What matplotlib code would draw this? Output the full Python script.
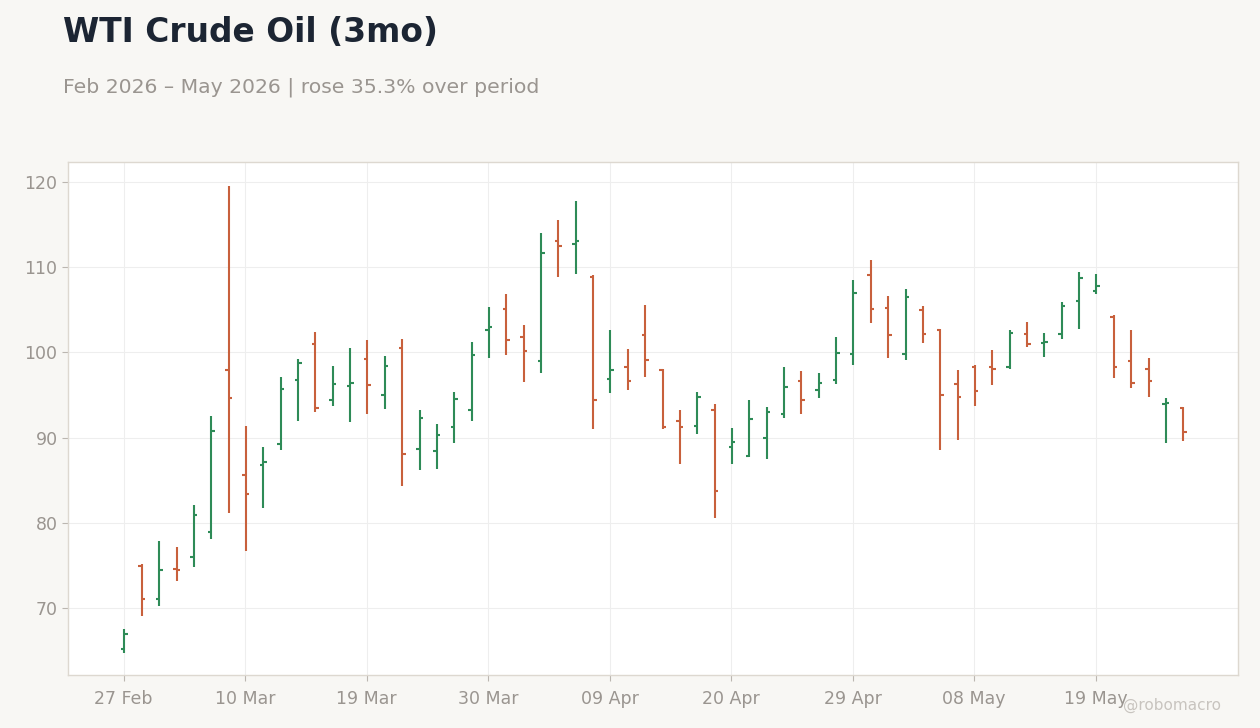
import matplotlib
matplotlib.use("Agg")
import matplotlib.pyplot as plt
import numpy as np

# daily OHLC, WTI crude, 27 Feb 2026 onwards (trading days)
opens = [65.14, 74.94, 71.06, 74.6, 76.0, 78.94, 97.96, 85.61, 86.82, 89.29,
         96.71, 100.94, 94.35, 96.0, 99.18, 94.94, 100.47, 88.71, 88.47, 91.29,
         93.29, 102.59, 105.06, 101.76, 98.94, 113.06, 112.71, 108.82, 96.82, 98.24,
         102.0, 97.9, 92.0, 91.37, 93.18, 88.94, 87.88, 90.0, 92.82, 96.59,
         95.53, 96.71, 99.76, 109.06, 105.18, 99.76, 104.94, 102.6, 96.24, 98.24,
         98.24, 98.31, 102.12, 101.06, 102.12, 106.0, 107.18, 104.12, 98.94, 98.0,
         93.9, 93.41]
highs = [67.57, 75.1, 77.84, 77.14, 82.08, 92.51, 119.49, 91.33, 88.86, 97.1,
         99.25, 102.43, 98.43, 100.55, 101.49, 99.61, 101.61, 93.25, 91.61, 95.37,
         101.25, 105.37, 106.9, 103.25, 113.96, 115.49, 117.73, 109.1, 102.67, 100.43,
         105.61, 98.0, 93.25, 95.37, 93.96, 91.14, 94.43, 93.61, 98.31, 97.84,
         97.61, 101.84, 108.55, 110.9, 106.67, 107.49, 105.49, 102.71, 97.96, 98.55,
         100.31, 102.63, 103.61, 102.31, 105.96, 109.49, 109.25, 104.43, 102.63, 99.37,
         94.67, 93.61]
lows = [64.7, 69.06, 70.24, 73.18, 74.82, 78.12, 81.1, 76.63, 81.76, 88.59,
        92.0, 92.94, 93.76, 91.88, 92.82, 93.37, 84.35, 86.24, 86.35, 89.41,
        92.0, 99.37, 99.65, 96.47, 97.53, 108.9, 109.25, 91.06, 95.18, 95.53,
        97.06, 91.06, 86.94, 90.47, 80.51, 86.94, 87.76, 87.53, 92.24, 92.71,
        94.59, 96.24, 98.47, 103.41, 99.29, 99.06, 101.06, 88.59, 89.76, 93.76,
        96.12, 98.0, 100.59, 99.41, 101.53, 102.71, 106.82, 96.94, 95.76, 94.71,
        89.41, 89.65]
closes = [66.95, 71.06, 74.47, 74.5, 80.94, 90.78, 94.67, 83.41, 87.14, 95.73,
          98.71, 93.49, 96.24, 96.35, 96.12, 98.35, 88.12, 92.35, 90.24, 94.47,
          99.65, 102.94, 101.41, 100.12, 111.65, 112.43, 113.06, 94.35, 97.88, 96.59,
          99.06, 91.25, 91.25, 94.71, 83.76, 89.53, 92.12, 92.94, 95.88, 94.35,
          96.35, 99.88, 106.94, 105.06, 102.0, 106.47, 102.2, 95.02, 94.78, 95.41,
          98.1, 102.24, 101.02, 101.18, 105.41, 108.71, 107.76, 98.24, 96.35, 96.59,
          94.0, 90.6]

tick_labels = ["27 Feb", "10 Mar", "19 Mar", "30 Mar", "09 Apr",
               "20 Apr", "29 Apr", "08 May", "19 May"]
tick_step = 7

UP = "#2e8b57"
DOWN = "#c8603c"
BG = "#f8f7f4"
MUTED = "#9a9590"

o = np.array(opens)
h = np.array(highs)
l = np.array(lows)
c = np.array(closes)
x = np.arange(len(o))
colors = [UP if cc >= oo else DOWN for oo, cc in zip(o, c)]

fig = plt.figure(figsize=(12.6, 7.28), dpi=100, facecolor=BG)
ax = fig.add_axes([0.054, 0.073, 0.9285, 0.7045])
ax.set_facecolor("white")

tw = 0.2
ax.vlines(x + 0.05, l, h, colors=colors, linewidth=1.5)
ax.hlines(o, x + 0.05 - tw, x + 0.05, colors=colors, linewidth=1.5)
ax.hlines(c, x + 0.05, x + 0.05 + tw, colors=colors, linewidth=1.5)

ax.set_xlim(-3.2, len(o) - 1 + 3.2)
ax.set_ylim(62.14, 122.35)
ax.set_yticks([70, 80, 90, 100, 110, 120])
ax.set_xticks(np.arange(len(tick_labels)) * tick_step)
ax.set_xticklabels(tick_labels)

ax.grid(True, color="#eeeeee", linewidth=0.8)
ax.set_axisbelow(True)
for s in ax.spines.values():
    s.set_color("#ddd8d0")
    s.set_linewidth(1.0)
ax.tick_params(colors="#bbb6b0", labelcolor=MUTED, labelsize=12.5, length=4)
ax.tick_params(axis="x", pad=7)

fig.text(0.05, 0.9423, "WTI Crude Oil (3mo)", fontsize=23.7, fontweight="bold",
         color="#1c2533", va="baseline")
pct = (c[-1] / c[0] - 1) * 100
fig.text(0.05, 0.8736, f"Feb 2026 \u2013 May 2026 | rose {pct:.1f}% over period",
         fontsize=14.7, color=MUTED, va="baseline")
fig.text(0.969, 0.025, "@robomacro", fontsize=11, color="#c8c4bf",
         ha="right", va="baseline")

fig.savefig("out.png", dpi=100, facecolor=BG)
